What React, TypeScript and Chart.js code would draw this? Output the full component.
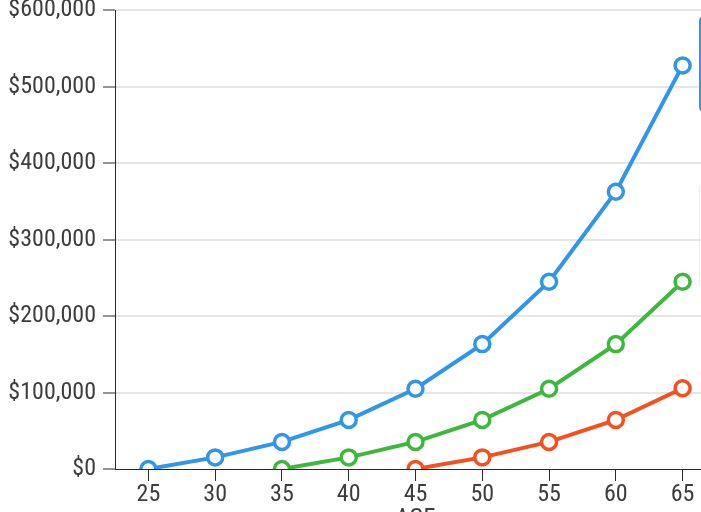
import React, { useEffect, useRef } from 'react';
import { Chart, registerables } from 'chart.js';

Chart.register(...registerables);

const ages = ['25', '30', '35', '40', '45', '50', '55', '60', '65'];
const start25 = [0, 15200, 35400, 64200, 105000, 163400, 245000, 362800, 528000];
const start35 = [null, null, 0, 15200, 35400, 64200, 105000, 163400, 245000];
const start45 = [null, null, null, null, 0, 15200, 35400, 64200, 105600];
const seriesLabels = ['Start at 25', 'Start at 35', 'Start at 45'];
const seriesColors = ['#2f96ea', '#3db83c', '#f4511e'];
const yMin = 0;
const yMax = 600000;
const yStep = 100000;
const xTitle = 'AGE';

const FONT = { family: "Roboto, 'Roboto Condensed', sans-serif", size: 24, weight: 'normal condensed' as any };
const TEXT = '#3d3d3d';
const AXIS = '#2a2a2a';

export default function App() {
  const ref = useRef<HTMLCanvasElement | null>(null);

  useEffect(() => {
    if (!ref.current) return;
    const series = [start25, start35, start45];
    const chart = new Chart(ref.current, {
      type: 'line',
      data: {
        labels: ages,
        datasets: series.map((d, i) => ({
          label: seriesLabels[i],
          data: d,
          borderColor: seriesColors[i],
          backgroundColor: '#ffffff',
          pointBackgroundColor: '#ffffff',
          pointBorderColor: seriesColors[i],
          pointRadius: 7.5,
          pointBorderWidth: 3.5,
          borderWidth: 4,
          tension: 0,
          fill: false,
          spanGaps: false,
        })),
      },
      options: {
        responsive: false,
        animation: false,
        layout: { padding: { top: 20, left: 0, right: 0, bottom: 0 } },
        plugins: { legend: { display: false }, tooltip: { enabled: false } },
        scales: {
          x: {
            type: 'category',
            offset: true,
            grid: { drawOnChartArea: false, drawTicks: true, tickLength: 12, tickColor: AXIS, tickWidth: 1, offset: false },
            border: { display: true, color: AXIS, width: 1 },
            ticks: { color: TEXT, font: FONT, padding: 0, maxRotation: 0, autoSkip: false },
            title: { display: true, text: xTitle, color: TEXT, font: FONT, padding: { top: 4, bottom: 4 } },
            afterFit: (s: any) => { s.height = 68; },
          },
          y: {
            min: yMin,
            max: yMax,
            ticks: {
              stepSize: yStep,
              color: TEXT,
              font: FONT,
              padding: 7,
              callback: (v: any) => '$' + Number(v).toLocaleString('en-US'),
            },
            grid: {
              color: (c: any) => (c.tick && c.tick.value === 0 ? 'rgba(0,0,0,0)' : '#e6e6e6'),
              lineWidth: 2,
              tickLength: 12,
              tickColor: AXIS,
              tickWidth: 1,
            },
            border: { display: true, color: AXIS, width: 1 },
            afterFit: (s: any) => { s.width = 115; },
          },
        },
      },
    });
    return () => chart.destroy();
  }, []);

  return (
    <div style={{ position: 'fixed', left: 0, top: 0, width: 701, height: 512, overflow: 'hidden', background: '#fff' }}>
      <canvas ref={ref} width={727} height={548} style={{ position: 'absolute', left: 0, top: -11, width: 727, height: 548 }} />
      {seriesLabels.map((l, i) => (
        <div
          key={l}
          style={{
            position: 'absolute',
            left: 699,
            top: i === 0 ? 15 : i === 1 ? 183 : 330,
            width: 120,
            height: i === 0 ? 94 : 104,
            border: i === 0 ? `2px solid ${seriesColors[0]}` : i === 1 ? '1px solid #eeeeee' : '1px solid transparent',
            borderRadius: 6,
            boxSizing: 'content-box',
            fontFamily: 'Roboto',
            fontSize: 14,
            color: TEXT,
            padding: '0 8px',
            whiteSpace: 'nowrap',
          }}
        >
          {l}
        </div>
      ))}
    </div>
  );
}
